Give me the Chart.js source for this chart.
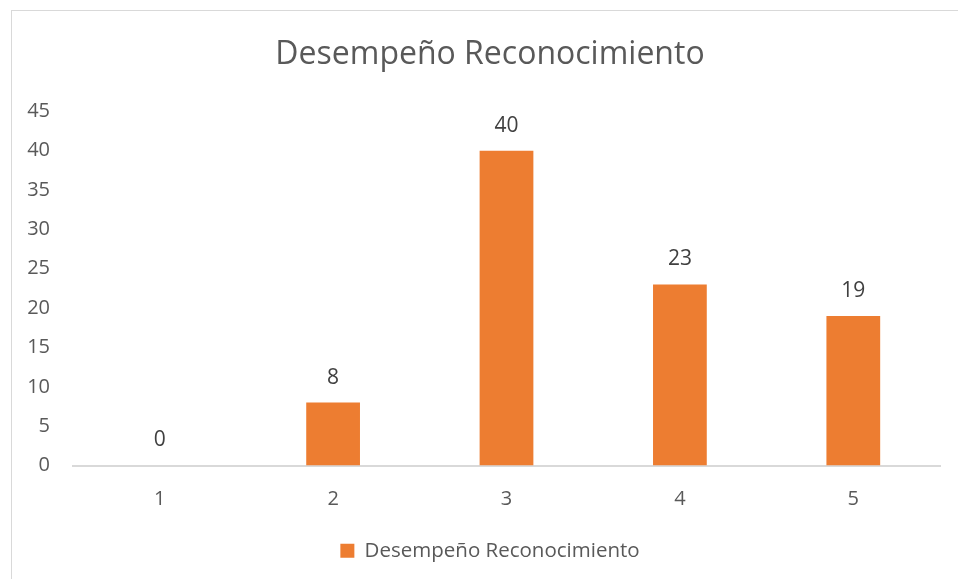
<!DOCTYPE html>
<html>
<head>
<meta charset="utf-8">
<script src="https://cdn.jsdelivr.net/npm/chart.js@4"></script>
<style>
  html, body { margin: 0; padding: 0; background: #fff; overflow: hidden; width: 958px; height: 580px; }
  #box {
    position: absolute; left: 11px; top: 10px;
    width: 956px; height: 568px;
    border: 1px solid #d9d9d9; border-right: none; border-bottom: none;
  }
</style>
</head>
<body>
<div id="box"><canvas id="bar-chart"></canvas></div>
<script>
const categories = ['1', '2', '3', '4', '5'];
const values = [0, 8, 40, 23, 19];
const seriesName = 'Desempeño Reconocimiento';

const textColor = '#595959';
const barColor = '#ED7D31';
const fontFamily = '"Open Sans", sans-serif';

// value labels above each bar
const valueLabels = {
  id: 'valueLabels',
  afterDatasetsDraw(chart) {
    const ctx = chart.ctx;
    const meta = chart.getDatasetMeta(0);
    ctx.save();
    ctx.fillStyle = '#404040';
    ctx.font = '21px ' + fontFamily;
    ctx.textAlign = 'center';
    ctx.textBaseline = 'middle';
    meta.data.forEach((bar, i) => {
      ctx.fillText(String(values[i]), bar.x, bar.y - 25);
    });
    ctx.restore();
  }
};

new Chart(document.getElementById('bar-chart'), {
  type: 'bar',
  data: {
    labels: categories,
    datasets: [{
      label: seriesName,
      data: values,
      backgroundColor: barColor,
      categoryPercentage: 1,
      barPercentage: 0.31
    }]
  },
  options: {
    responsive: true,
    maintainAspectRatio: false,
    animation: false,
    layout: { padding: { left: 0, right: 0, top: 0, bottom: 8 } },
    plugins: {
      title: {
        display: true,
        text: seriesName,
        color: textColor,
        font: { family: fontFamily, size: 32, weight: 'normal' },
        padding: { top: 25, bottom: 37 }
      },
      legend: {
        position: 'bottom',
        labels: {
          color: textColor,
          font: { family: fontFamily, size: 20.5 },
          boxWidth: 14,
          boxHeight: 14,
          padding: 10
        }
      },
      tooltip: { enabled: false }
    },
    scales: {
      x: {
        grid: { display: false },
        border: { color: '#d9d9d9', width: 2 },
        ticks: { color: textColor, font: { family: fontFamily, size: 20 }, padding: 14 },
        afterFit(scale) { scale.height = 65; }
      },
      y: {
        min: 0,
        max: 45,
        grid: { display: false },
        border: { display: false },
        ticks: { stepSize: 5, color: textColor, font: { family: fontFamily, size: 20 }, padding: 15 },
        afterFit(scale) { scale.width = 61; }
      },
      // empty right-hand spacer so the title and legend sit centred like the original
      spacer: {
        position: 'right',
        grid: { display: false },
        border: { display: false },
        ticks: { display: false },
        afterFit(scale) { scale.width = 28; }
      }
    }
  },
  plugins: [valueLabels]
});
</script>
</body>
</html>
